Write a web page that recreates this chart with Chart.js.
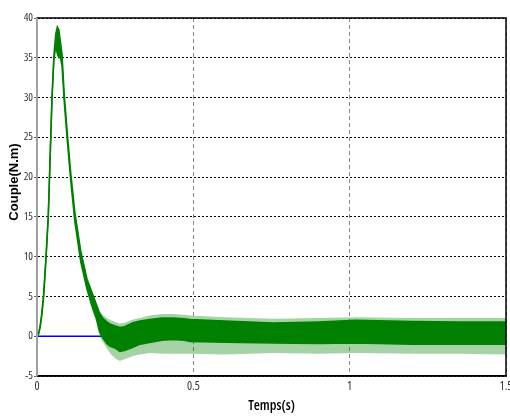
<!DOCTYPE html>
<html>
<head>
<meta charset="utf-8">
<script src="https://cdn.jsdelivr.net/npm/chart.js@4.4.0/dist/chart.umd.min.js"></script>
<style>
  body { margin: 0; background: #fff; }
  #wrap { position: relative; width: 510px; height: 417px; }
</style>
</head>
<body>
<div id="wrap"><canvas id="myChart"></canvas></div>
<script>
// temps (s) and couple (N.m): dense band + spike envelope
const temps = [0, 0.005, 0.01, 0.015, 0.021, 0.029, 0.036, 0.04, 0.044, 0.048, 0.054, 0.06, 0.065, 0.07, 0.075, 0.08, 0.087, 0.097, 0.108, 0.121, 0.14, 0.16, 0.175, 0.19, 0.2, 0.21, 0.223, 0.235, 0.25, 0.265, 0.28, 0.307, 0.33, 0.36, 0.4, 0.435, 0.47, 0.49, 0.6, 0.755, 0.9, 1.02, 1.2, 1.35, 1.5];
const coupleHaut = [0, 0.35, 1.3, 2.8, 5.2, 10.2, 15.2, 20.2, 25.2, 30.2, 35.3, 38.0, 38.9, 38.5, 37.0, 35.5, 30.5, 25.5, 20.5, 15.6, 10.7, 7.2, 5.6, 4.0, 2.9, 2.3, 1.8, 1.5, 1.3, 1.1, 1.2, 1.7, 1.9, 2.1, 2.3, 2.3, 2.2, 2.1, 1.9, 1.65, 1.8, 2.0, 1.85, 1.8, 1.8];
const coupleBas = [0, 0.25, 1.1, 2.5, 4.8, 9.8, 14.8, 19.8, 24.8, 29.8, 34.7, 36.5, 35.5, 35.0, 35.0, 34.0, 29.5, 24.5, 19.5, 14.4, 9.3, 5.9, 3.9, 2.2, 0.6, -0.2, -0.9, -1.3, -1.5, -1.9, -1.8, -1.4, -1.0, -0.8, -0.5, -0.4, -0.5, -0.65, -0.75, -0.85, -0.9, -0.85, -1.0, -1.0, -1.0];
const pointeHaut = [0, 0.35, 1.3, 2.8, 5.2, 10.2, 15.2, 20.2, 25.2, 30.2, 35.3, 38.0, 38.9, 38.5, 37.0, 35.5, 30.5, 25.5, 20.5, 15.6, 10.7, 7.2, 5.8, 4.2, 3.2, 2.7, 2.3, 2.0, 1.8, 1.6, 1.7, 2.1, 2.3, 2.6, 2.8, 2.8, 2.7, 2.6, 2.4, 2.2, 2.3, 2.4, 2.3, 2.3, 2.3];
const pointeBas = [0, 0.25, 1.1, 2.5, 4.8, 9.8, 14.8, 19.8, 24.8, 29.8, 34.7, 36.5, 35.5, 35.0, 35.0, 34.0, 29.5, 24.5, 19.5, 14.4, 9.3, 5.9, 3.5, 1.8, 0.0, -0.7, -1.5, -2.2, -2.8, -3.1, -2.9, -2.5, -2.3, -2.1, -2.2, -2.2, -2.2, -2.2, -2.3, -2.1, -2.2, -2.1, -2.2, -2.2, -2.3];

// couple de charge (blue)
const tempsCharge = [0, 0.217];
const coupleCharge = [0, 0];

const ticksTemps = ['0', '0.5', '1', '1.5'];
const ticksCouple = ['-5', '0', '5', '10', '15', '20', '25', '30', '35', '40'];

const vert = '#008000';
const narrow = "'Open Sans', Roboto, 'Liberation Sans', sans-serif";

const toPoints = (xs, ys) => xs.map((x, i) => ({ x: x, y: ys[i] }));

const cadre = {
  id: 'cadre',
  afterDraw(chart) {
    const ctx = chart.ctx;
    const a = chart.chartArea;
    ctx.save();
    ctx.strokeStyle = '#000';
    ctx.lineWidth = 1.5;
    ctx.beginPath();
    ctx.moveTo(a.left, a.top);
    ctx.lineTo(a.right, a.top);
    ctx.lineTo(a.right, a.bottom);
    ctx.lineTo(a.left, a.bottom);
    ctx.stroke();
    ctx.strokeStyle = '#a0a0a0';
    ctx.lineWidth = 2;
    ctx.beginPath();
    ctx.moveTo(a.left, a.top);
    ctx.lineTo(a.left, a.bottom);
    ctx.stroke();

    // y axis title
    ctx.translate(14.5, 182);
    ctx.rotate(-Math.PI / 2);
    ctx.font = "bold 13px 'Liberation Sans', Arial, sans-serif";
    ctx.fillStyle = '#000';
    ctx.textAlign = 'center';
    ctx.textBaseline = 'middle';
    ctx.fillText('Couple(N.m)', 0, 0);
    ctx.restore();
  }
};

const ctx = document.getElementById('myChart').getContext('2d');
const myChart = new Chart(ctx, {
  type: 'line',
  data: {
    datasets: [
      {
        label: 'pointes bas',
        data: toPoints(temps, pointeBas),
        borderWidth: 0,
        borderColor: 'rgba(0,0,0,0)',
        pointRadius: 0,
        fill: false
      },
      {
        label: 'pointes haut',
        data: toPoints(temps, pointeHaut),
        borderWidth: 0,
        borderColor: 'rgba(0,0,0,0)',
        backgroundColor: 'rgba(0,128,0,0.35)',
        pointRadius: 0,
        fill: '-1'
      },
      {
        label: 'couple bas',
        data: toPoints(temps, coupleBas),
        borderWidth: 1.5,
        borderColor: vert,
        pointRadius: 0,
        fill: false
      },
      {
        label: 'couple haut',
        data: toPoints(temps, coupleHaut),
        borderWidth: 1.5,
        borderColor: vert,
        backgroundColor: vert,
        pointRadius: 0,
        fill: '-1'
      },
      {
        label: 'charge',
        data: toPoints(tempsCharge, coupleCharge),
        borderWidth: 1.5,
        borderColor: '#0000ff',
        pointRadius: 0,
        fill: false
      }
    ]
  },
  options: {
    responsive: true,
    maintainAspectRatio: false,
    animation: false,
    layout: { padding: { top: 18, right: 4, left: 0, bottom: 0 } },
    plugins: {
      legend: { display: false },
      tooltip: { enabled: false }
    },
    scales: {
      x: {
        type: 'linear',
        min: 0,
        max: 1.5,
        ticks: {
          stepSize: 0.5,
          padding: 3,
          color: '#333',
          font: { family: narrow, size: 12, weight: 'condensed' },
          maxRotation: 0,
          callback: (value, index) => ticksTemps[index]
        },
        grid: { color: '#888', lineWidth: 1, drawTicks: false },
        border: { color: '#000', width: 1.5, dash: [4, 3] },
        title: {
          display: true,
          text: 'Temps(s)',
          color: '#000',
          font: { family: narrow, size: 14, weight: '600 condensed' },
          padding: { top: 0, bottom: 3 }
        },
        afterFit: (scale) => {
          scale.height = 41;
          scale.paddingLeft = 0;
          scale.paddingRight = 0;
        }
      },
      y: {
        type: 'linear',
        min: -5,
        max: 40,
        ticks: {
          stepSize: 5,
          padding: 1,
          color: '#333',
          font: { family: narrow, size: 11, weight: 'condensed' },
          callback: (value, index) => ticksCouple[index]
        },
        grid: { color: '#000', lineWidth: 1, tickLength: 3, tickColor: '#666' },
        border: { color: '#a0a0a0', width: 2, dash: [2, 2] },
        afterFit: (scale) => {
          scale.width = 37;
          scale.paddingTop = 0;
          scale.paddingBottom = 0;
        }
      }
    }
  },
  plugins: [cadre]
});
</script>
</body>
</html>
